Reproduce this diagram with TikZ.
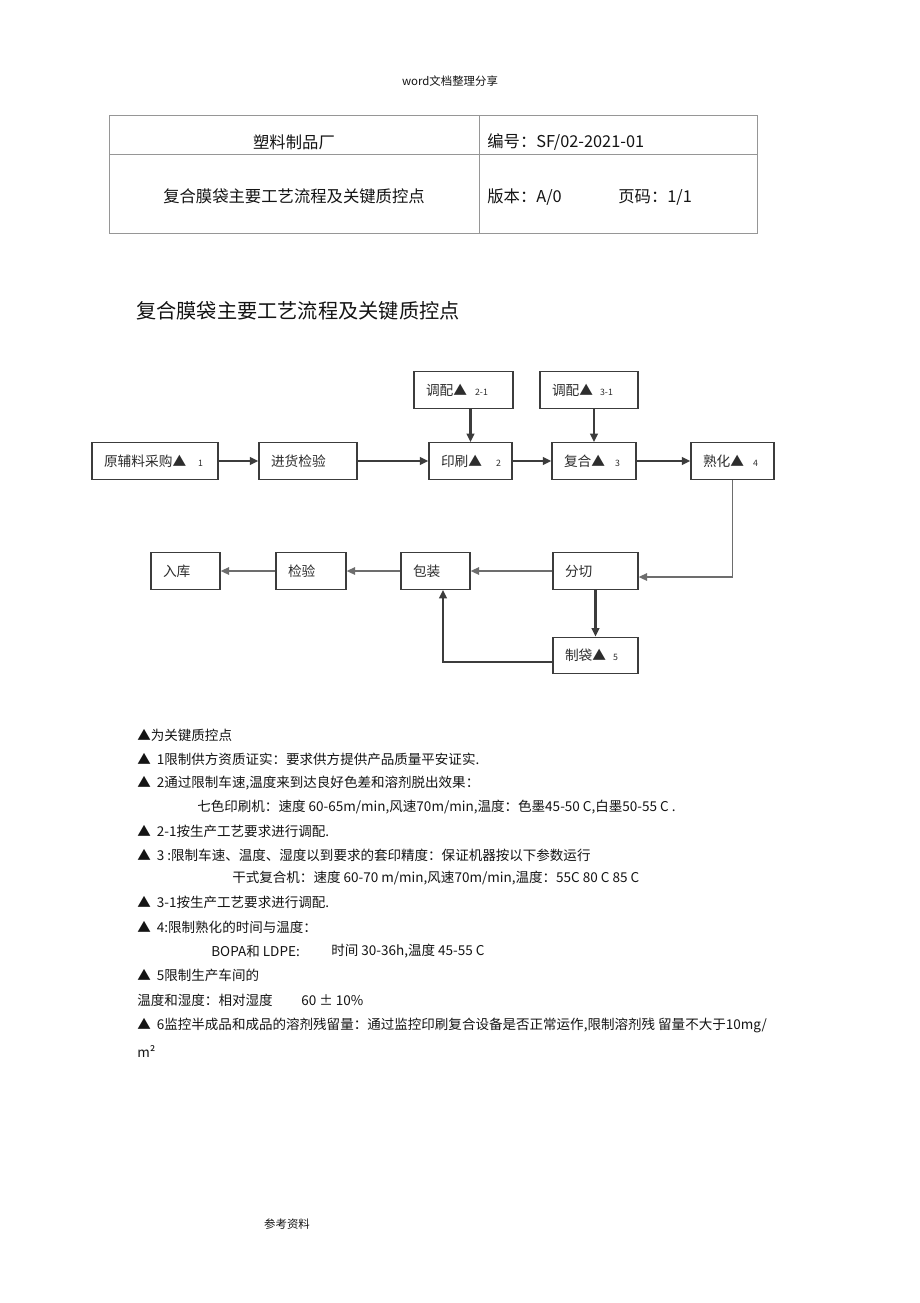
\documentclass[tikz,border=0pt]{standalone}
\usepackage{fontspec}
\setmainfont{Noto Sans CJK SC}
\usepackage{tikz}
\usetikzlibrary{arrows.meta}
\usepackage{xcolor}
\definecolor{cLine}{RGB}{60,60,60}
\definecolor{cGrid}{RGB}{150,150,150}
\definecolor{cText}{RGB}{45,45,45}
\definecolor{cInk}{RGB}{20,20,20}

\begin{document}
\begin{tikzpicture}[
  x=0.02cm, y=-0.02cm,
  stepbox/.style={
    draw=cLine, line width=0.025cm, minimum height=0.73cm,
    inner xsep=0.24cm, inner ysep=0pt, align=left,
    font=\fontsize{7.8pt}{9pt}\selectfont, text=cText
  },
  flow/.style={
    draw=cLine, line width=0.045cm,
    -{Triangle[length=0.17cm,width=0.15cm]}
  },
  thinflow/.style={
    draw=cLine!75, line width=0.03cm,
    -{Triangle[length=0.17cm,width=0.15cm]}
  },
  grid/.style={draw=cGrid, line width=0.02cm},
  head/.style={inner sep=0pt, font=\fontsize{9.3pt}{11pt}\selectfont, text=cInk},
  note/.style={anchor=west, inner sep=0pt, font=\fontsize{7.7pt}{9pt}\selectfont, text=cInk}
]

% Page
\fill[white] (0,0) rectangle (920,1303);
\useasboundingbox (0,0) rectangle (920,1303);
\node[inner sep=0pt, font=\fontsize{6.5pt}{8pt}\selectfont, text=cInk] (hdr) at (450,81) {word文档整理分享};
\node[inner sep=0pt, font=\fontsize{6.5pt}{8pt}\selectfont, text=cInk] (ftr) at (287,1224) {参考资料};

% Header table
\draw[grid] (109,115) rectangle (757,233);
\draw[grid] (109,154) -- (757,154);
\draw[grid] (479,115) -- (479,233);
\node[head] (factory) at (294,142) {塑料制品厂};
\node[head, anchor=west] (docno) at (487,142) {编号：SF/02-2021-01};
\node[head] (tname) at (294,196) {复合膜袋主要工艺流程及关键质控点};
\node[head, anchor=west] (ver) at (487,197) {版本：A/0};
\node[head, anchor=west] (pageno) at (618,197) {页码：1/1};

% Title
\node[anchor=west, inner sep=0pt, font=\fontsize{11.5pt}{13pt}\selectfont, text=cInk] (title) at (136,311) {复合膜袋主要工艺流程及关键质控点};

% Flow boxes
\node[stepbox, text width=1.50cm] (mix21) at (463.5,390) {调配▲\kern0.16cm{\tiny 2-1}};
\node[stepbox, text width=1.48cm] (mix31) at (589,390) {调配▲\kern0.14cm{\tiny 3-1}};
\node[stepbox, text width=2.04cm] (raw) at (155,461) {原辅料采购▲\kern0.24cm{\tiny 1}};
\node[stepbox, text width=1.48cm] (inc) at (308,461) {进货检验};
\node[stepbox, text width=1.18cm] (prt) at (470.5,461) {印刷▲\kern0.28cm{\tiny 2}};
\node[stepbox, text width=1.20cm] (lam) at (594,461) {复合▲\kern0.2cm{\tiny 3}};
\node[stepbox, text width=1.18cm] (cure) at (732.5,461) {熟化▲\kern0.18cm{\tiny 4}};
\node[stepbox, text width=1.22cm] (slit) at (595.5,571) {分切};
\node[stepbox, text width=1.22cm] (bag) at (595.5,655.5) {制袋▲\kern0.14cm{\tiny 5}};
\node[stepbox, text width=0.90cm] (pack) at (435.5,571) {包装};
\node[stepbox, text width=0.92cm] (chk) at (311,571) {检验};
\node[stepbox, text width=0.90cm] (store) at (185.5,571) {入库};

% Connectors
\draw[flow] (raw) -- (inc);
\draw[flow] (inc) -- (prt);
\draw[flow] (prt) -- (lam);
\draw[flow] (lam) -- (cure);
\draw[flow] (prt.north |- mix21.south) -- (prt.north);
\draw[flow] (lam.north |- mix31.south) -- (lam.north);
\coordinate (turn) at (732,577);
\draw[thinflow] (cure.south) -- (cure.south |- turn) -- (turn -| slit.east);
\draw[flow] (slit) -- (bag);
\draw[thinflow] (slit) -- (pack);
\draw[thinflow] (pack) -- (chk);
\draw[thinflow] (chk) -- (store);
\coordinate (back) at (443,662);
\draw[flow] (bag.west |- back) -- (back) -- (back |- pack.south);

% Key points
\node[note] (k0) at (137,735) {▲为关键质控点};
\node[note] (k1) at (137,759) {▲\hspace{0.12cm}1限制供方资质证实：要求供方提供产品质量平安证实.};
\node[note] (k2) at (137,783) {▲\hspace{0.12cm}2通过限制车速,温度来到达良好色差和溶剂脱出效果：};
\node[note] (k2a) at (197,807) {七色印刷机：速度 60-65m/min,风速70m/min,温度：色墨45-50 C,白墨50-55 C .};
\node[note] (k21) at (137,831) {▲\hspace{0.12cm}2-1按生产工艺要求进行调配.};
\node[note] (k3) at (137,855) {▲\hspace{0.12cm}3 :限制车速、温度、湿度以到要求的套印精度：保证机器按以下参数运行};
\node[note] (k3a) at (232,878) {干式复合机：速度 60-70 m/min,风速70m/min,温度：55C 80 C 85 C};
\node[note] (k31) at (137,902) {▲\hspace{0.12cm}3-1按生产工艺要求进行调配.};
\node[note] (k4) at (137,927) {▲\hspace{0.12cm}4:限制熟化的时间与温度：};
\node[note] (k4a) at (211,951) {BOPA和 LDPE:};
\node[note] (k4b) at (331,951) {时间 30-36h,温度 45-55 C};
\node[note] (k5) at (137,975) {▲\hspace{0.12cm}5限制生产车间的};
\node[note] (k5a) at (137,1000) {温度和湿度：相对湿度};
\node[note] (k5b) at (301,1000) {60 ± 10\%};
\node[note] (k6) at (137,1025) {▲\hspace{0.12cm}6监控半成品和成品的溶剂残留量：通过监控印刷复合设备是否正常运作,限制溶剂残 留量不大于10mg/};
\node[note] (k6a) at (137,1051) {m²};

\end{tikzpicture}
\end{document}
